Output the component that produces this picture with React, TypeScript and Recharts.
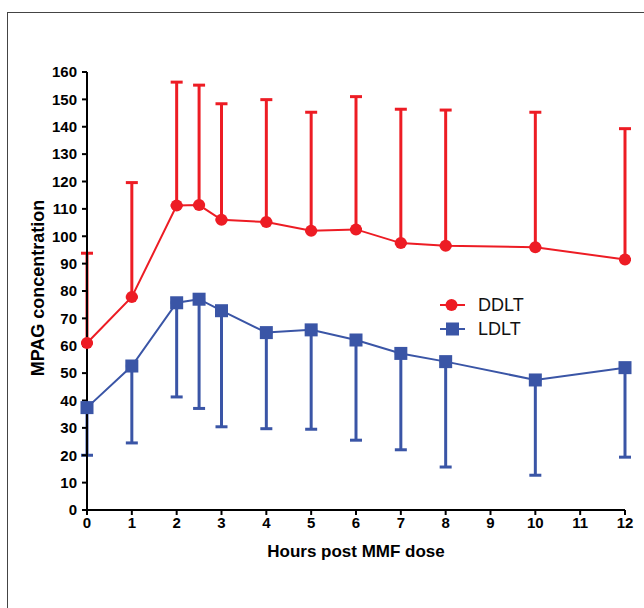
import React from "react";
import {
  ComposedChart,
  Line,
  XAxis,
  YAxis,
  ErrorBar,
  Legend,
  Label,
} from "recharts";

const hours = [0, 1, 2, 2.5, 3, 4, 5, 6, 7, 8, 10, 12];
const ddltMean = [61, 77.8, 111.2, 111.4, 106, 105.2, 102, 102.5, 97.5, 96.5, 96, 91.5];
const ddltUpper = [93.8, 119.6, 156.3, 155.2, 148.4, 149.9, 145.3, 151, 146.4, 146.1, 145.3, 139.3];
const ldltMean = [37.4, 52.6, 75.7, 77, 72.8, 64.8, 65.8, 62.1, 57.2, 54.2, 47.5, 52];
const ldltLower = [20, 24.5, 41.3, 37.1, 30.4, 29.7, 29.5, 25.5, 22, 15.7, 12.7, 19.3];
const xTicks = [0, 1, 2, 3, 4, 5, 6, 7, 8, 9, 10, 11, 12];
const yTicks = [0, 10, 20, 30, 40, 50, 60, 70, 80, 90, 100, 110, 120, 130, 140, 150, 160];

const RED = "#ED1C24";
const BLUE = "#3A55A6";
const FONT = "'Liberation Sans', Arial, Helvetica, sans-serif";

const data = hours.map((h, i) => ({
  hour: h,
  ddlt: ddltMean[i],
  ldlt: ldltMean[i],
  ddltErr: [0, +(ddltUpper[i] - ddltMean[i]).toFixed(2)],
  ldltErr: [+(ldltMean[i] - ldltLower[i]).toFixed(2), 0],
}));

const SquareDot = (props: any) => {
  const { cx, cy, index } = props;
  if (cx == null || cy == null) return null;
  return <rect key={`sq-${index}`} x={cx - 6.5} y={cy - 6.5} width={13} height={13} fill={BLUE} />;
};

const LegendContent = () => (
  <div style={{ fontFamily: FONT, fontSize: 18, color: "#111" }}>
    {[
      { name: "DDLT", color: RED, shape: "circle" },
      { name: "LDLT", color: BLUE, shape: "square" },
    ].map((e) => (
      <div key={e.name} style={{ display: "flex", alignItems: "center", height: 24 }}>
        <svg width={26} height={16} style={{ marginRight: 12 }}>
          <line x1={0} y1={8} x2={25} y2={8} stroke={e.color} strokeWidth={2} />
          {e.shape === "circle" ? (
            <circle cx={11.5} cy={8} r={6} fill={e.color} />
          ) : (
            <rect x={6} y={1.5} width={13} height={13} fill={e.color} />
          )}
        </svg>
        <span>{e.name}</span>
      </div>
    ))}
  </div>
);

export default function App() {
  return (
    <div
      style={{
        position: "fixed",
        left: 0,
        top: 0,
        width: 644,
        height: 608,
        background: "#fff",
        overflow: "hidden",
      }}
    >
      <div
        style={{
          position: "absolute",
          left: 7,
          top: 12,
          width: 800,
          height: 800,
          borderLeft: "1.5px solid #444",
          borderTop: "1.5px solid #444",
        }}
      />
      <div style={{ position: "absolute", left: 0, top: 0 }}>
        <ComposedChart
          width={644}
          height={608}
          data={data}
          margin={{ top: 72, right: 19, bottom: 68, left: 37 }}
        >
          <XAxis
            dataKey="hour"
            type="number"
            domain={[0, 12]}
            ticks={xTicks}
            interval={0}
            stroke="#000"
            strokeWidth={2}
            tickSize={5}
            tickMargin={2}
            height={30}
            tick={{ fill: "#000", fontSize: 15, fontWeight: "bold", fontFamily: FONT }}
            tickLine={{ stroke: "#000", strokeWidth: 2 }}
          >
            <Label
              content={(p: any) => {
                const vb = p.viewBox || {};
                const cx = vb.x + vb.width / 2;
                return (
                  <text
                    x={cx}
                    y={557}
                    textAnchor="middle"
                    fontFamily={FONT}
                    fontWeight="bold"
                    fontSize={17}
                    fill="#000"
                  >
                    Hours post MMF dose
                  </text>
                );
              }}
            />
          </XAxis>
          <YAxis
            type="number"
            domain={[0, 160]}
            ticks={yTicks}
            interval={0}
            width={50}
            stroke="#000"
            strokeWidth={2}
            tickSize={5}
            tickMargin={5}
            tick={{ fill: "#000", fontSize: 15, fontWeight: "bold", fontFamily: FONT }}
            tickLine={{ stroke: "#000", strokeWidth: 2 }}
          >
            <Label
              content={(p: any) => {
                const vb = p.viewBox || {};
                const cx = 38;
                const cy = vb.y + vb.height / 2 - 3;
                return (
                  <text
                    x={cx}
                    y={cy}
                    transform={`rotate(-90 ${cx} ${cy})`}
                    textAnchor="middle"
                    dominantBaseline="central"
                    fontFamily={FONT}
                    fontWeight="bold"
                    fontSize={18}
                    fill="#000"
                  >
                    MPAG concentration
                  </text>
                );
              }}
            />
          </YAxis>
          <Legend
            layout="horizontal"
            verticalAlign="middle"
            align="center"
            content={<LegendContent />}
            wrapperStyle={{ position: "absolute", left: 440, top: 293, width: 120 }}
          />
          <Line
            dataKey="ddlt"
            name="DDLT"
            stroke={RED}
            strokeWidth={2}
            dot={{ r: 6, fill: RED, stroke: RED, strokeWidth: 0 }}
            activeDot={false}
            isAnimationActive={false}
          >
            <ErrorBar dataKey="ddltErr" direction="y" width={6} stroke={RED} strokeWidth={3} />
          </Line>
          <Line
            dataKey="ldlt"
            name="LDLT"
            stroke={BLUE}
            strokeWidth={2}
            dot={<SquareDot />}
            activeDot={false}
            isAnimationActive={false}
          >
            <ErrorBar dataKey="ldltErr" direction="y" width={6} stroke={BLUE} strokeWidth={3} />
          </Line>
        </ComposedChart>
      </div>
    </div>
  );
}
